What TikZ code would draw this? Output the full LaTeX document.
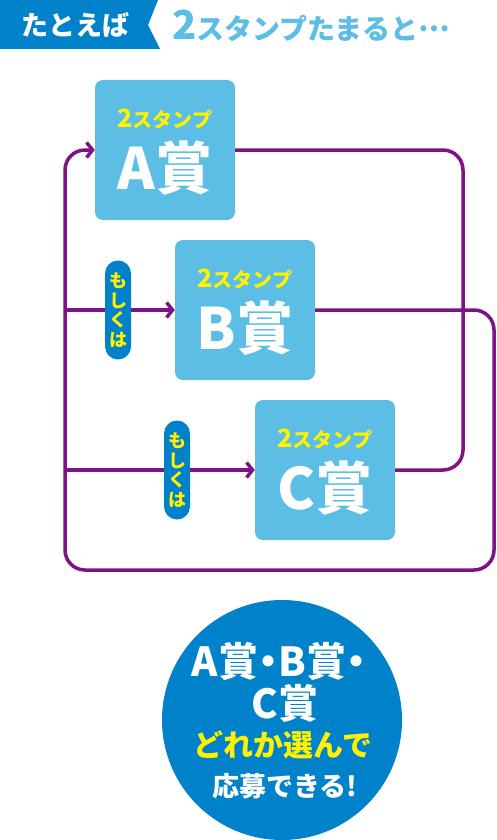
\documentclass[tikz,border=0pt]{standalone}
\usepackage{fontspec}
\setmainfont{Noto Sans CJK JP}[BoldFont={Noto Sans CJK JP Black}]
\usetikzlibrary{arrows.meta, positioning, calc}
\definecolor{hdrblue}{RGB}{0,130,202}
\definecolor{skyblue}{RGB}{92,190,228}
\definecolor{stampyellow}{RGB}{255,241,0}
\definecolor{looppurple}{RGB}{128,18,135}
\tikzset{
  prize/.style={rectangle, fill=skyblue, minimum width=140pt,
    minimum height=140pt, rounded corners=8pt, inner sep=0pt},
  stamps/.style={text=stampyellow, inner sep=0pt,
    font=\bfseries\fontsize{20}{20}\selectfont},
  prizename/.style={text=white, inner sep=0pt,
    font=\bfseries\fontsize{57}{57}\selectfont},
  orpill/.style={rectangle, fill=hdrblue, rounded corners=13pt,
    minimum width=26pt, minimum height=99pt, inner sep=0pt,
    text=stampyellow, align=center,
    font=\bfseries\fontsize{18}{19.5}\selectfont},
  badgetext/.style={text=white, inner sep=0pt, font=\bfseries},
  flow/.style={draw=looppurple, line width=3.5pt, rounded corners=20pt},
  arrow/.style={flow, -{Straight Barb[length=6pt, width=15pt]}}
}

\begin{document}
\begin{tikzpicture}[x=1pt, y=1pt]
  \useasboundingbox (0,0) rectangle (497,-840);

  % header
  \fill[hdrblue] (0,0) -- (158,0) -- (148,-25) -- (160,-49) -- (0,-49) -- cycle;
  \node[text=white, inner sep=0pt, font=\bfseries\fontsize{27}{27}\selectfont]
    (tag) at (75,-25) {たとえば};
  \node[anchor=west, text=skyblue, inner sep=0pt, font=\bfseries]
    (headline) at (172,-26)
    {{\fontsize{40}{40}\selectfont 2}{\fontsize{28}{28}\selectfont スタンプたまると\raisebox{0.3em}{…}}};

  % prize boxes
  \node[prize] (boxA) at (165,-150) {};
  \node[prize] (boxB) at (245,-310) {};
  \node[prize] (boxC) at (325,-470) {};
  \foreach \b/\p in {boxA/A, boxB/B, boxC/C} {
    \node[stamps] at ($(\b)+(0,31)$) {{\fontsize{25}{25}\selectfont 2}スタンプ};
    \node[prizename] at ($(\b)+(0,-18)$) {\p 賞};
  }

  % connectors
  \coordinate (aturn) at (463,-150);
  \coordinate (cturn) at (463,-470);
  \coordinate (bturn) at (494,-310);
  \coordinate (botright) at (494,-570);
  \coordinate (botleft) at (65,-570);
  \coordinate (topleft) at (65,-150);
  \coordinate (forkB) at (65,-310);
  \coordinate (forkC) at (65,-470);
  \draw[flow] (boxA.east) -- (aturn) -- (cturn) -- (boxC.east);
  \draw[arrow] (boxB.east) -- (bturn) -- (botright) -- (botleft)
    -- (topleft) -- (boxA.west);
  \draw[arrow] (forkB) -- (boxB.west);
  \draw[arrow] (forkC) -- (boxC.west);

  % "or" labels
  \node[orpill] (orB) at (118,-310) {も\\し\\く\\は};
  \node[orpill] (orC) at (177,-470) {も\\し\\く\\は};

  % badge
  \node[circle, fill=hdrblue, minimum size=240pt, inner sep=0pt]
    (badge) at (282,-720) {};
  \node[badgetext, font=\bfseries\fontsize{40}{40}\selectfont] (line1) at (279,-661)
    {A賞\kern-10pt・\kern-10pt B賞\kern-10pt・\kern-10pt};
  \node[badgetext, font=\bfseries\fontsize{40}{40}\selectfont] (line2) at (285,-703) {C賞};
  \node[badgetext, text=stampyellow, font=\bfseries\fontsize{30}{30}\selectfont]
    (line3) at (283,-745) {どれか選んで};
  \node[badgetext, font=\bfseries\fontsize{27}{27}\selectfont] (line4) at (285,-786)
    {応募できる!};
\end{tikzpicture}
\end{document}
